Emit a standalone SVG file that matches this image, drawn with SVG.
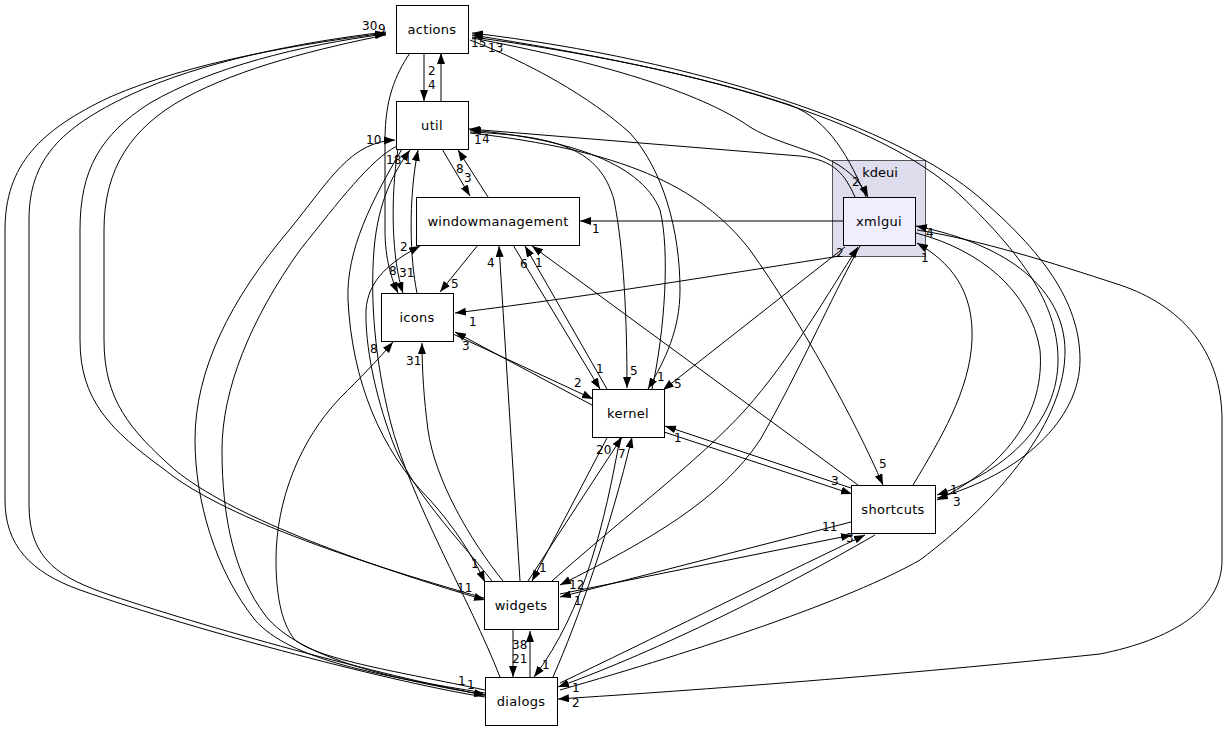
<svg xmlns="http://www.w3.org/2000/svg" width="1228" height="731" viewBox="0 0 1228 731">
<style>
.n rect{fill:#fff;stroke:#000;stroke-width:1}
.n text{font-family:"DejaVu Sans",sans-serif;font-size:13px;text-anchor:middle;fill:#000;letter-spacing:0.3px}
#edges path{fill:none;stroke:#000;stroke-width:1;marker-end:url(#ah)}
#edges text{font-family:"DejaVu Sans",sans-serif;font-size:12px;fill:#000}
</style>
<defs>
<marker id="ah" markerUnits="userSpaceOnUse" markerWidth="12" markerHeight="9" refX="11" refY="4" orient="auto"><path d="M0,0 L11,4 L0,8 z" fill="#000"/></marker>
</defs>
<rect width="1228" height="731" fill="#fff"/>
<g id="cluster_kdeui">
<rect x="832.5" y="160.5" width="93" height="96" fill="#ddddee" stroke="#555"/>
<text x="880" y="177" font-family="DejaVu Sans,sans-serif" font-size="13" text-anchor="middle">kdeui</text>
</g>
<g id="edges">
<path d="M424,53 L424,101"/>
<path d="M441,101 L441,53"/>
<path d="M485,697 C400,684 200,632 80,590 C30,572 5,545 5,500 L5,230 C5,165 40,130 110,97 C190,62 300,44 386,33"/>
<path d="M386,32 C300,42 200,62 130,95 C60,128 29,160 29,220 L29,505 C29,560 60,578 110,595 C220,632 400,680 485,695"/>
<path d="M484,598 C350,560 220,515 165,470 C110,430 80,400 80,340 L80,230 C80,170 100,135 150,103 C210,68 300,45 386,34"/>
<path d="M386,35 C320,48 240,68 185,98 C130,128 104,170 104,230 L104,340 C104,400 130,430 175,470 C230,515 350,560 485,600"/>
<path d="M485,693 C380,676 290,660 255,620 C215,570 195,500 195,440 C195,370 230,300 290,229 C330,180 350,142 395,140"/>
<path d="M397,146 C370,160 340,200 300,250 C250,320 222,390 222,450 C222,520 235,575 265,615 C300,660 400,680 485,695"/>
<path d="M485,690 C400,672 320,660 295,640 C280,622 276,590 276,560 C276,500 300,440 340,398 C360,378 378,360 393,342"/>
<path d="M492,581 C460,540 410,490 392,440 C375,395 365,345 366,310 C368,280 390,262 420,246"/>
<path d="M402,149 C372,200 346,250 348,300 C352,380 380,450 430,500 C455,528 472,555 485,582"/>
<path d="M500,677 C470,600 410,500 390,420 C375,360 370,300 374,250 C378,200 395,170 410,150"/>
<path d="M417,293 C410,260 408,200 418,150"/>
<path d="M410,53 C395,75 385,100 385,140 L385,230 C385,260 392,280 398,293"/>
<path d="M398,149 C390,200 392,260 403,293"/>
<path d="M503,581 C470,540 435,480 428,430 C424,400 422,370 422,343"/>
<path d="M520,581 L499,246"/>
<path d="M478,245 L440,292"/>
<path d="M442,149 L470,196"/>
<path d="M488,197 L458,150"/>
<path d="M843,221 L580,221"/>
<path d="M607,389 L525,246"/>
<path d="M858,485 L532,246"/>
<path d="M513,245 L600,389"/>
<path d="M470,132 C560,136 600,150 614,200 C624,250 627,320 627,388"/>
<path d="M470,40 C530,63 590,97 630,133 C663,170 680,230 680,290 C680,330 665,360 648,389"/>
<path d="M652,389 C665,330 670,250 660,210 C640,160 560,138 470,130"/>
<path d="M845,247 L663,390"/>
<path d="M453,334 L593,399"/>
<path d="M592,405 L455,332"/>
<path d="M840,256 C750,270 600,295 455,313"/>
<path d="M851,488 L665,426"/>
<path d="M664,432 L852,494"/>
<path d="M528,581 L622,437"/>
<path d="M553,677 C578,620 610,530 632,437"/>
<path d="M607,438 L532,581"/>
<path d="M620,438 C605,520 585,610 534,677"/>
<path d="M470,133 C620,150 700,185 750,250 C800,320 855,420 883,485"/>
<path d="M472,37 C700,68 880,120 960,195 C1030,262 1058,310 1058,360 C1058,420 1010,470 937,495"/>
<path d="M937,498 C1020,475 1080,420 1080,360 C1080,300 1040,250 980,198 C900,128 700,60 472,33"/>
<path d="M866,197 C850,160 830,120 790,105 C700,75 580,52 472,35"/>
<path d="M472,38 C600,62 700,92 750,127 C790,152 845,150 868,197"/>
<path d="M855,197 C845,175 835,160 800,156 L469,129"/>
<path d="M560,594 L852,535"/>
<path d="M851,522 L560,597"/>
<path d="M560,683 C650,640 760,585 865,535"/>
<path d="M875,535 C780,590 660,650 558,687"/>
<path d="M917,230 C980,240 1050,262 1120,285 C1180,305 1222,350 1222,420 L1222,560 C1222,610 1170,640 1100,654 C900,675 700,690 558,699"/>
<path d="M560,690 C700,650 850,600 920,560 C1000,500 1066,420 1065,350 C1064,290 1010,245 916,226"/>
<path d="M913,485 C940,440 970,390 972,340 C974,290 950,262 917,243"/>
<path d="M860,246 C830,300 800,370 760,440 C720,500 650,540 560,585"/>
<path d="M552,581 C620,520 700,460 745,410 C790,360 830,290 858,247"/>
<path d="M513,629 L513,677"/>
<path d="M530,677 L530,631"/>
<path d="M916,233 C980,250 1030,290 1040,350 C1045,410 1010,465 937,500"/>
<text x="362" y="30">30</text><text x="378" y="33">9</text>
<text x="471" y="47">15</text><text x="488" y="52">13</text>
<text x="428" y="75">2</text><text x="428" y="89">4</text>
<text x="366" y="144">10</text>
<text x="482" y="143">4</text><text x="474" y="144">1</text>
<text x="386" y="164">18</text><text x="404" y="164">1</text>
<text x="456" y="173">8</text><text x="464" y="182">3</text>
<text x="400" y="251">2</text>
<text x="399" y="277">31</text><text x="389" y="275">8</text>
<text x="451" y="288">5</text>
<text x="487" y="267">4</text><text x="520" y="268">6</text><text x="535" y="267">1</text>
<text x="592" y="233">1</text>
<text x="469" y="326">1</text><text x="462" y="350">3</text><text x="406" y="365">31</text><text x="370" y="353">8</text>
<text x="596" y="373">1</text><text x="630" y="375">5</text><text x="657" y="381">1</text><text x="674" y="388">5</text>
<text x="574" y="387">2</text><text x="674" y="442">1</text><text x="596" y="454">20</text><text x="618" y="458">7</text>
<text x="879" y="468">5</text><text x="831" y="485">3</text><text x="950" y="494">1</text><text x="953" y="506">3</text>
<text x="822" y="531">11</text><text x="846" y="542">3</text>
<text x="471" y="568">1</text><text x="539" y="572">1</text><text x="569" y="589">12</text><text x="574" y="605">1</text>
<text x="457" y="592">11</text><text x="512" y="649">38</text><text x="512" y="663">21</text>
<text x="542" y="669">1</text><text x="458" y="685">1</text><text x="467" y="689">1</text>
<text x="572" y="692">1</text><text x="572" y="707">2</text>
<text x="852" y="186">2</text><text x="926" y="237">4</text><text x="921" y="262">1</text><text x="836" y="257">2</text>
</g>
<g id="actions" class="n"><rect x="396.5" y="5.5" width="72" height="48"/><text x="432" y="34">actions</text></g>
<g id="util" class="n"><rect x="396.5" y="101.5" width="72" height="48"/><text x="432" y="130">util</text></g>
<g id="windowmanagement" class="n"><rect x="416.5" y="197.5" width="163" height="48"/><text x="498" y="226">windowmanagement</text></g>
<g id="icons" class="n"><rect x="381.5" y="293.5" width="72" height="48"/><text x="417" y="322">icons</text></g>
<g id="kernel" class="n"><rect x="592.5" y="389.5" width="72" height="48"/><text x="628" y="418">kernel</text></g>
<g id="shortcuts" class="n"><rect x="851.5" y="485.5" width="84" height="48"/><text x="893" y="514">shortcuts</text></g>
<g id="widgets" class="n"><rect x="484.5" y="581.5" width="74" height="48"/><text x="521" y="610">widgets</text></g>
<g id="dialogs" class="n"><rect x="485.5" y="677.5" width="72" height="48"/><text x="521" y="706">dialogs</text></g>
<g id="xmlgui" class="n"><rect x="843.5" y="197.5" width="72" height="48" style="fill:#eeeeff"/><text x="879" y="226">xmlgui</text></g>
</svg>
